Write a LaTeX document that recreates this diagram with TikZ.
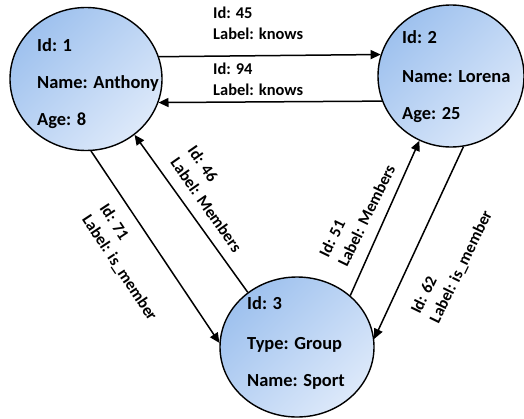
\documentclass[tikz,border=0pt]{standalone}
\usepackage{fontspec}
\setmainfont{Carlito}
\usetikzlibrary{shapes.geometric,arrows.meta}

\definecolor{fillDark}{HTML}{9EC1EE}
\definecolor{fillLight}{HTML}{DDE9FA}

\begin{document}
\begin{tikzpicture}[x=1bp,y=1bp,
  entity/.style={ellipse, draw=black, line width=1.4bp, inner sep=0pt,
    shading=axis, top color=fillDark, bottom color=fillLight, shading angle=45},
  field/.style={anchor=base west, inner sep=0pt,
    font=\bfseries\fontsize{18.5}{22}\selectfont},
  rel/.style={-{Triangle[length=10bp,width=9bp]}, line width=1.5bp},
  tag/.style={align=left, inner sep=0pt,
    font=\bfseries\fontsize{16.5}{21}\selectfont}
]
\useasboundingbox (0,0) rectangle (524,418);

% vertices
\node[entity, minimum width=152bp, minimum height=143bp] (anthony) at (86,339) {};
\node[entity, minimum width=146bp, minimum height=142bp] (lorena)  at (451,342) {};
\node[entity, minimum width=154bp, minimum height=140bp] (sport)   at (297,71) {};

% vertex properties
\node[field] (a1) at (37,367) {Id: 1};
\node[field] (a2) at (37,330) {Name: Anthony};
\node[field] (a3) at (37,293) {Age: 8};

\node[field] (l1) at (402,375) {Id: 2};
\node[field] (l2) at (402,336) {Name: Lorena};
\node[field] (l3) at (402,299) {Age: 25};

\node[field] (s1) at (247,109) {Id: 3};
\node[field] (s2) at (247,69)  {Type: Group};
\node[field] (s3) at (247,32)  {Name: Sport};

% relationships
\draw[rel] (anthony.17) -- (lorena.163.5);
\draw[rel] (lorena.200.8) -- (anthony.342.5);
\draw[rel] (anthony.274.6) -- (sport.177);
\draw[rel] (sport.132) -- (anthony.311.5);
\draw[rel] (sport.44.5) -- (lorena.244.4);
\draw[rel] (lorena.280.3) -- (sport.6.6);

% relationship properties
\node[tag, anchor=west] (e45) at (213,395) {Id: 45\\Label: knows};
\node[tag, anchor=west] (e94) at (213,339) {Id: 94\\Label: knows};
\node[tag, rotate=-56.5] (e71) at (128,155.5) {Id: 71\\Label: is\_member};
\node[tag, rotate=-55]   (e46) at (215,219)   {Id: 46\\Label: Members};
\node[tag, rotate=64]    (e51) at (357,207)   {Id: 51\\Label: Members};
\node[tag, rotate=64]    (e62) at (452,155.5) {Id: 62\\Label: is\_member};
\end{tikzpicture}
\end{document}
